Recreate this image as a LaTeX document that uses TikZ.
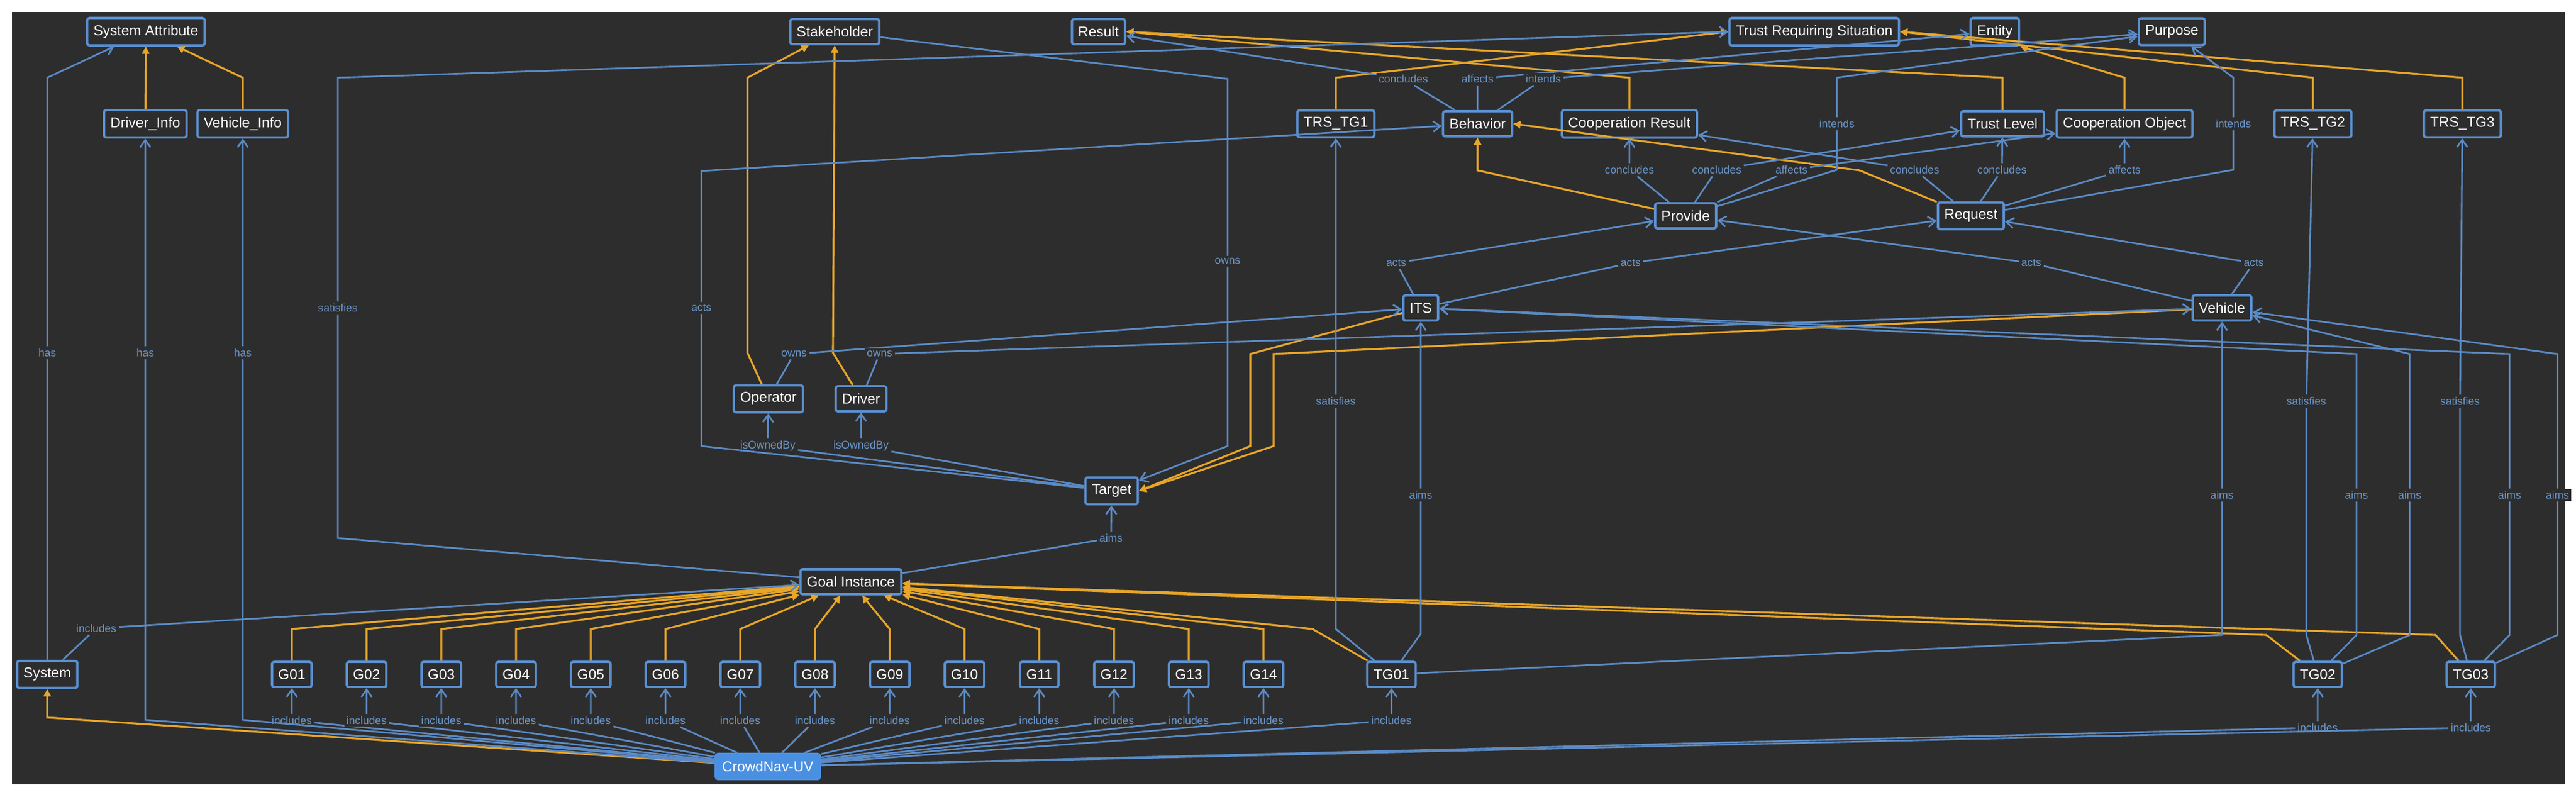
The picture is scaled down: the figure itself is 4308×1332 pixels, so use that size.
\documentclass[tikz,border=0pt]{standalone}
\usepackage{fontspec}
\setmainfont{Liberation Sans}
\usetikzlibrary{arrows.meta}
\definecolor{bg}{HTML}{2D2D2D}
\definecolor{nb}{HTML}{5A8FD0}
\definecolor{eb}{HTML}{5B8AC4}
\definecolor{eo}{HTML}{E8A628}
\definecolor{lb}{HTML}{6A95C8}
\definecolor{cn}{HTML}{4A90E2}
\tikzset{
 n/.style={draw=nb, line width=1.1pt, fill=bg, rounded corners=1pt, text=white,
   font=\fontsize{6.8}{7}\selectfont, inner xsep=3pt, minimum height=0.42cm},
 l/.style={text=lb, font=\fontsize{5.2}{6}\selectfont, fill=bg, inner sep=1pt},
 be/.style={draw=eb, line width=0.8pt, -{Straight Barb[length=3.5pt,width=5pt]}},
 oe/.style={draw=eo, line width=0.9pt, -{Triangle[length=3.5pt,width=3.5pt]}}
}
\begin{document}
\begin{tikzpicture}[x=0.01cm,y=-0.01cm]
\fill[white] (0,0) rectangle (4308,1332);
\fill[bg] (20,20) rectangle (4290,1312);
% nodes
\node[n] (SA) at (244,53) {System Attribute};
\node[n] (DI) at (243,207) {Driver\_Info};
\node[n] (VI) at (406,207) {Vehicle\_Info};
\node[n] (SH) at (1396,53) {Stakeholder};
\node[n] (RES) at (1837,53) {Result};
\node[n] (TRS) at (3034,53) {Trust Requiring Situation};
\node[n] (ENT) at (3336,53) {Entity};
\node[n] (PUR) at (3632,53) {Purpose};
\node[n] (TG1) at (2234,207) {TRS\_TG1};
\node[n] (BEH) at (2471,207) {Behavior};
\node[n] (CR) at (2725,207) {Cooperation Result};
\node[n] (TL) at (3349,207) {Trust Level};
\node[n] (CO) at (3553,207) {Cooperation Object};
\node[n] (T2) at (3868,207) {TRS\_TG2};
\node[n] (T3) at (4118,207) {TRS\_TG3};
\node[n] (PRO) at (2819,361) {Provide};
\node[n] (REQ) at (3296,361) {Request};
\node[n] (ITS) at (2376,515) {ITS};
\node[n] (VEH) at (3716,515) {Vehicle};
\node[n] (OP) at (1285,667) {Operator};
\node[n] (DR) at (1440,667) {Driver};
\node[n] (TAR) at (1859,821) {Target};
\node[n] (GI) at (1423,973) {Goal Instance};
\node[n] (SYS) at (79,1128) {System};
\node[n] (TG01) at (2327,1128) {TG01};
\node[n] (TG02) at (3876,1128) {TG02};
\node[n] (TG03) at (4132,1128) {TG03};
\node[n, fill=cn, draw=cn] (CN) at (1284,1282) {CrowdNav-UV};
% orange edges
\draw[oe] (DI) -- (SA);
\draw[oe] (VI) -- (406,130) -- (SA);
\draw[oe] (OP) -- (1250,590) -- (1250,130) -- (SH);
\draw[oe] (DR) -- (1393,590) -- (SH);
\draw[oe] (TG1) -- (2234,130) -- (TRS.west);
\draw[oe] (CR) -- (2725,130) -- (RES.east);
\draw[oe] (TL) -- (3349,130) -- (RES.east);
\draw[oe] (CO) -- (3553,130) -- (ENT.south east);
\draw[oe] (T2) -- (3868,130) -- (TRS.east);
\draw[oe] (T3) -- (4118,130) -- (TRS.east);
\draw[oe] (PRO) -- (2471,285) -- (BEH);
\draw[oe] (REQ) -- (3110,285) -- (BEH.east);
\draw[oe] (ITS) -- (2091,592) -- (2091,746) -- (TAR.east);
\draw[oe] (VEH) -- (2130,592) -- (2130,746) -- (TAR.east);
\draw[oe] (TG01) -- (2195,1052) -- (GI);
\draw[oe] (TG02) -- (3790,1062) -- (GI);
\draw[oe] (TG03) -- (4073,1062) -- (GI);
\draw[oe] (CN) -- (79,1200) -- (SYS);
% G nodes
\foreach \i/\x in {01/488,02/613,03/738,04/863,05/988,06/1113,07/1238,08/1363,09/1488,10/1613,11/1738,12/1863,13/1988,14/2113}{
  \node[n] (G\i) at (\x,1128) {G\i};
  \node[l] (LG\i) at (\x,1205) {includes};
  \draw[oe] (G\i) -- (\x,1052) -- (GI);
  \draw[be] (CN) -- (LG\i) -- (G\i);
}
% blue labelled edges
\node[l] (Lh1) at (79,590) {has};
\draw[be] (SYS) -- (Lh1) -- (79,130) -- (SA);
\node[l] (Lh2) at (243,590) {has};
\draw[be] (CN) -- (243,1204) -- (Lh2) -- (DI);
\node[l] (Lh3) at (406,590) {has};
\draw[be] (CN) -- (406,1204) -- (Lh3) -- (VI);
\node[l] (Li1) at (2327,1205) {includes};
\draw[be] (CN) -- (Li1) -- (TG01);
\node[l] (Li2) at (3876,1217) {includes};
\draw[be] (CN) -- (Li2) -- (TG02);
\node[l] (Li3) at (4132,1217) {includes};
\draw[be] (CN) -- (Li3) -- (TG03);
\node[l] (Li4) at (161,1051) {includes};
\draw[be] (SYS) -- (Li4) -- (GI);
\node[l] (Ls1) at (565,515) {satisfies};
\draw[be] (GI) -- (565,900) -- (Ls1) -- (565,130) -- (TRS.west);
\node[l] (La1) at (1858,900) {aims};
\draw[be] (GI) -- (La1) -- (TAR);
\node[l] (Lo1) at (1284,746) {isOwnedBy};
\draw[be] (TAR) -- (Lo1) -- (OP);
\node[l] (Lo2) at (1440,746) {isOwnedBy};
\draw[be] (TAR) -- (Lo2) -- (DR);
\node[l] (Lac0) at (1173,515) {acts};
\draw[be] (TAR) -- (1173,746) -- (Lac0) -- (1173,286) -- (BEH);
\node[l] (Low0) at (2053,437) {owns};
\draw[be] (SH) -- (2053,132) -- (Low0) -- (2053,746) -- (TAR);
\node[l] (Low1) at (1328,592) {owns};
\draw[be] (OP) -- (Low1) -- (ITS);
\node[l] (Low2) at (1471,592) {owns};
\draw[be] (DR) -- (Low2) -- (VEH);
\node[l] (Lb1) at (2347,132) {concludes};
\draw[be] (BEH) -- (Lb1) -- (RES);
\node[l] (Lb2) at (2471,132) {affects};
\draw[be] (BEH) -- (Lb2) -- (ENT);
\node[l] (Lb3) at (2581,132) {intends};
\draw[be] (BEH) -- (Lb3) -- (PUR);
\node[l] (Lp1) at (2725,284) {concludes};
\draw[be] (PRO) -- (Lp1) -- (CR);
\node[l] (Lp2) at (2871,284) {concludes};
\draw[be] (PRO) -- (Lp2) -- (TL);
\node[l] (Lp3) at (2996,284) {affects};
\draw[be] (PRO) -- (Lp3) -- (CO);
\node[l] (Lp4) at (3072,207) {intends};
\draw[be] (PRO) -- (3072,284) -- (Lp4) -- (3072,130) -- (PUR);
\node[l] (Lr1) at (3202,284) {concludes};
\draw[be] (REQ) -- (Lr1) -- (CR);
\node[l] (Lr2) at (3348,284) {concludes};
\draw[be] (REQ) -- (Lr2) -- (TL);
\node[l] (Lr3) at (3553,284) {affects};
\draw[be] (REQ) -- (Lr3) -- (CO);
\node[l] (Lr4) at (3735,207) {intends};
\draw[be] (REQ) -- (3735,284) -- (Lr4) -- (3735,130) -- (PUR);
\node[l] (Lc1) at (2335,440) {acts};
\draw[be] (ITS) -- (Lc1) -- (PRO);
\node[l] (Lc2) at (2727,440) {acts};
\draw[be] (ITS) -- (Lc2) -- (REQ);
\node[l] (Lc3) at (3397,440) {acts};
\draw[be] (VEH) -- (Lc3) -- (PRO);
\node[l] (Lc4) at (3769,440) {acts};
\draw[be] (VEH) -- (Lc4) -- (REQ);
\node[l] (Lt1) at (2234,671) {satisfies};
\draw[be] (TG01) -- (2234,1052) -- (Lt1) -- (TG1);
\node[l] (Lt2) at (2376,828) {aims};
\draw[be] (TG01) -- (2376,1060) -- (Lt2) -- (ITS);
\node[l] (Lt3) at (3716,828) {aims};
\draw[be] (TG01) -- (3716,1062) -- (Lt3) -- (VEH);
\node[l] (Lu1) at (3857,671) {satisfies};
\draw[be] (TG02) -- (3857,1062) -- (Lu1) -- (T2);
\node[l] (Lu2) at (3941,828) {aims};
\draw[be] (TG02) -- (3941,1062) -- (Lu2) -- (3941,592) -- (ITS);
\node[l] (Lu3) at (4030,828) {aims};
\draw[be] (TG02) -- (4030,1062) -- (Lu3) -- (4030,592) -- (VEH);
\node[l] (Lv1) at (4114,671) {satisfies};
\draw[be] (TG03) -- (4114,1062) -- (Lv1) -- (T3);
\node[l] (Lv2) at (4197,828) {aims};
\draw[be] (TG03) -- (4197,1062) -- (Lv2) -- (4197,592) -- (ITS);
\node[l] (Lv3) at (4277,828) {aims};
\draw[be] (TG03) -- (4277,1062) -- (Lv3) -- (4277,592) -- (VEH);
\end{tikzpicture}
\end{document}
